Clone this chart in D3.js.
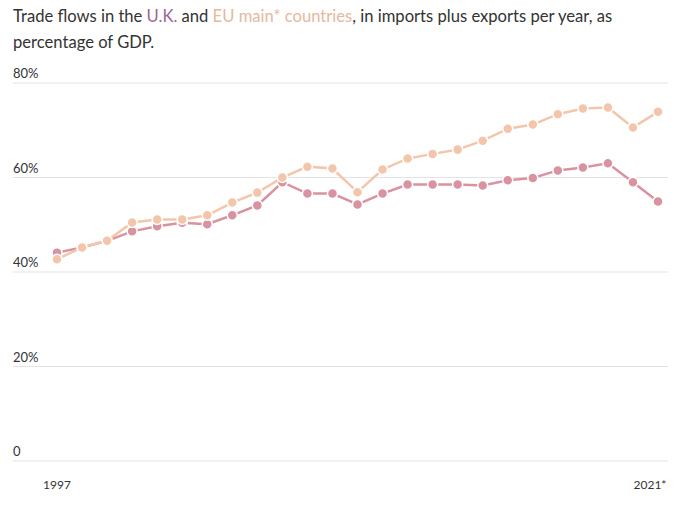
<!DOCTYPE html>
<html><head><meta charset="utf-8">
<script src="https://cdn.jsdelivr.net/npm/d3@7"></script>
<style>
body{margin:0;background:#fff;font-family:Lato,"Open Sans",sans-serif;}
</style></head><body>
<svg id="c" width="681" height="509" style="position:absolute;left:0;top:0"></svg>
<script>
const years = d3.range(1997, 2022);
const xLabels = ["1997","2021*"];
const yTicks = [0,20,40,60,80];
const ukValues = [44.1,45.2,46.6,48.6,49.7,50.4,50.1,52.0,54.1,59.0,56.6,56.6,54.3,56.6,58.5,58.5,58.5,58.3,59.4,59.9,61.5,62.1,63.0,59.0,54.9];
const euValues = [42.7,45.2,46.6,50.5,51.1,51.1,52.0,54.7,56.8,60.0,62.3,61.9,56.9,61.7,64.0,65.0,65.9,67.8,70.3,71.2,73.4,74.6,74.8,70.6,73.9];
const titleLine1 = [["Trade flows in the ","#333"],["U.K.","#9e6596"],[" and ","#333"],["EU main* countries","#e6b89e"],[", in imports plus exports per year, as","#333"]];
const titleLine2 = "percentage of GDP.";

const svg = d3.select("#c");
const x = d3.scaleLinear().domain([1997,2021]).range([57,658]);
const y = d3.scaleLinear().domain([0,80]).range([461,83]);

const t1 = svg.append("text").attr("x",13).attr("y",22).attr("font-size",16.6).attr("fill","#333");
titleLine1.forEach(([s,c])=>t1.append("tspan").attr("fill",c).text(s));
svg.append("text").attr("x",13).attr("y",48).attr("font-size",16.6).attr("fill","#333").text(titleLine2);

const g = svg.append("g");
yTicks.forEach(t=>{
  g.append("line").attr("x1",13).attr("x2",668).attr("y1",y(t)).attr("y2",y(t))
   .attr("stroke","#e3e3e3").attr("stroke-width",1);
  g.append("text").attr("x",13).attr("y",y(t)-5).attr("font-size",13).attr("fill","#333")
   .text(t===0?"0":t+"%");
});
g.append("text").attr("x",x(1997)).attr("y",489).attr("text-anchor","middle").attr("font-size",12).attr("fill","#333").text(xLabels[0]);
g.append("text").attr("x",x(2021)-8).attr("y",489).attr("text-anchor","middle").attr("font-size",12).attr("fill","#333").text(xLabels[1]);

const line = d3.line().x((d,i)=>x(years[i])).y(d=>y(d));
function series(vals,color){
  svg.append("path").datum(vals).attr("d",line).attr("fill","none").attr("stroke",color).attr("stroke-width",2.5);
  svg.append("g").selectAll("circle").data(vals).join("circle")
    .attr("cx",(d,i)=>x(years[i])).attr("cy",d=>y(d)).attr("r",5)
    .attr("fill",color).attr("stroke","#fff").attr("stroke-width",1.5);
}
series(ukValues,"#d9929f");
series(euValues,"#f3c6ab");
</script>
</body></html>
